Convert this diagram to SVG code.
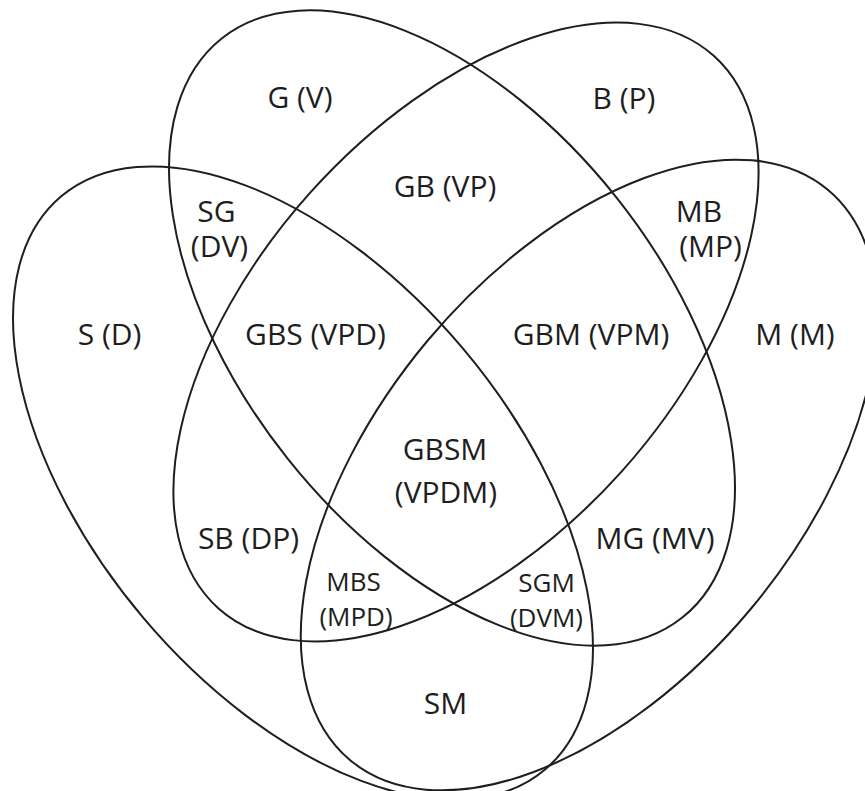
<svg xmlns="http://www.w3.org/2000/svg" width="865" height="791" viewBox="0 0 865 791">
<style>
.set{fill:none;stroke:#1e1e1e;stroke-width:2}
.lb{font-family:"Open Sans","Noto Sans","Liberation Sans",sans-serif;font-size:30px;fill:#1e1e1e;text-anchor:middle}
.sm{font-size:26px}
</style>
<rect width="865" height="791" fill="#ffffff"/>
<g id="set-S"><ellipse class="set" cx="303" cy="483" rx="375" ry="209" transform="rotate(49.8 303 483)"/></g>
<g id="set-M"><ellipse class="set" cx="589" cy="475" rx="372" ry="210" transform="rotate(-50 589 475)"/></g>
<g id="set-G"><ellipse class="set" cx="452" cy="328" rx="370" ry="210" transform="rotate(51.5 452 328)"/></g>
<g id="set-B"><ellipse class="set" cx="466" cy="332" rx="371" ry="209" transform="rotate(-48.1 466 332)"/></g>
<g id="labels">
<text class="lb" x="300" y="108">G (V)</text>
<text class="lb" x="624" y="109">B (P)</text>
<text class="lb" x="445" y="197">GB (VP)</text>
<text class="lb" x="216.5" y="222">SG</text>
<text class="lb" x="219.5" y="257">(DV)</text>
<text class="lb" x="699" y="222">MB</text>
<text class="lb" x="710.5" y="257">(MP)</text>
<text class="lb" x="109.5" y="345">S (D)</text>
<text class="lb" x="315.5" y="345">GBS (VPD)</text>
<text class="lb" x="591" y="345">GBM (VPM)</text>
<text class="lb" x="795" y="345">M (M)</text>
<text class="lb" x="445" y="460">GBSM</text>
<text class="lb" x="446" y="503">(VPDM)</text>
<text class="lb" x="248.5" y="549">SB (DP)</text>
<text class="lb" x="655" y="549">MG (MV)</text>
<text class="lb sm" x="353.5" y="591">MBS</text>
<text class="lb sm" x="356" y="626">(MPD)</text>
<text class="lb sm" x="546.5" y="592">SGM</text>
<text class="lb sm" x="546.5" y="627">(DVM)</text>
<text class="lb" x="445.5" y="714">SM</text>
</g>
</svg>
